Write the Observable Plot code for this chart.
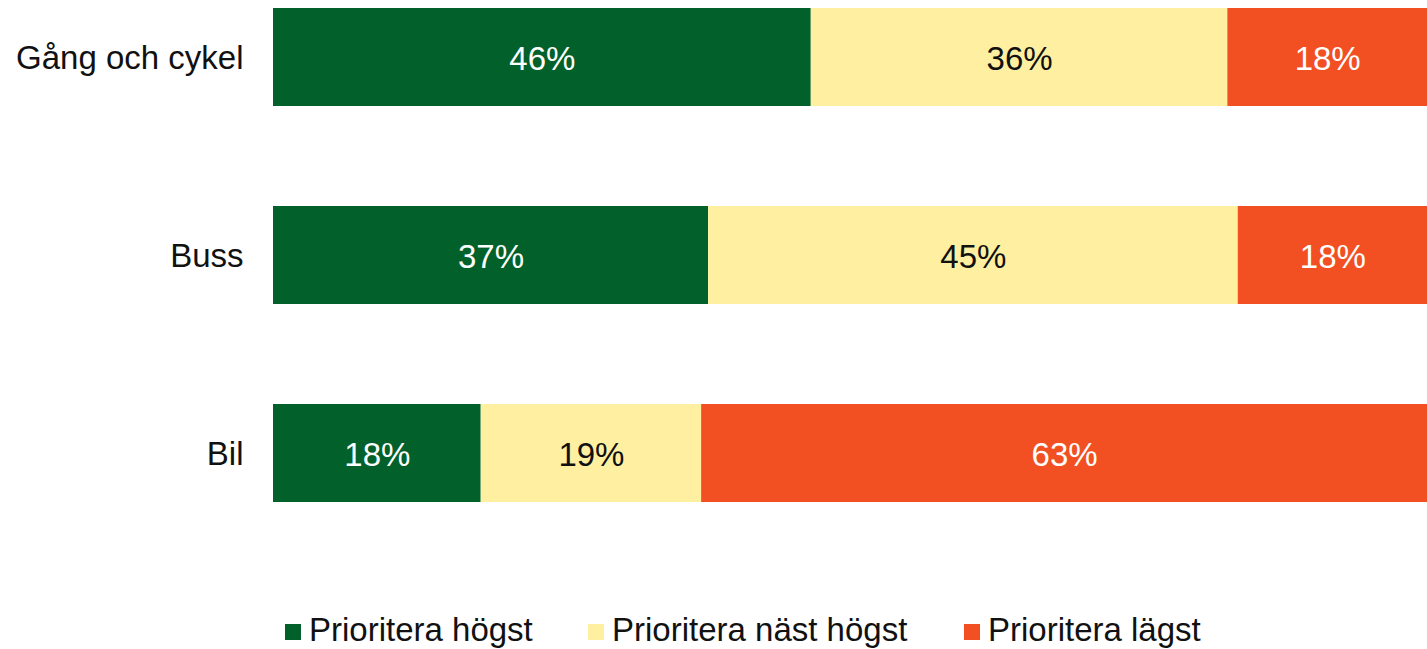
<!DOCTYPE html>
<html>
<head>
<meta charset="utf-8">
<script src="https://cdn.jsdelivr.net/npm/d3@7"></script>
<script src="https://cdn.jsdelivr.net/npm/@observablehq/plot@0.6"></script>
<style>
  html, body { margin: 0; padding: 0; background: #fff; }
  body { width: 1427px; height: 649px; overflow: hidden; font-family: "Liberation Sans", Arial, sans-serif; }
  #legend { position: relative; height: 49px; }
  .item { position: absolute; top: 10px; display: flex; align-items: center; font-size: 33px; color: #111; line-height: 40px; }
  .sw { width: 16px; height: 16px; margin-right: 8px; margin-top: 3px; }
</style>
</head>
<body>
<div id="chart"></div>
<div id="legend"></div>
<script>
const categories = ["Gång och cykel", "Buss", "Bil"];
const series = ["Prioritera högst", "Prioritera näst högst", "Prioritera lägst"];
const colors = ["#02612A", "#FEF0A0", "#F24F22"];
const textColors = ["#ffffff", "#111111", "#ffffff"];
// values per category, in series order
const valuesGang = [46.6, 36.1, 17.3];
const valuesBuss = [37.7, 45.9, 16.4];
const valuesBil  = [18.0, 19.1, 62.9];
// printed labels
const labelsGang = ["46%", "36%", "18%"];
const labelsBuss = ["37%", "45%", "18%"];
const labelsBil  = ["18%", "19%", "63%"];
const legendX = [285, 588, 964];

const rows = [];
[[valuesGang, labelsGang], [valuesBuss, labelsBuss], [valuesBil, labelsBil]].forEach(([vals, labs], ci) => {
  vals.forEach((v, si) => rows.push({cat: categories[ci], series: series[si], value: v, label: labs[si], si}));
});

const chart = Plot.plot({
  width: 1427,
  height: 600,
  marginLeft: 273,
  marginRight: 0,
  marginTop: 8,
  marginBottom: 98,
  style: {fontFamily: "Liberation Sans, Arial, sans-serif", fontSize: "33px", background: "#fff"},
  x: {domain: [0, 100], axis: null},
  y: {domain: categories, paddingInner: 100/198, paddingOuter: 0, label: null, tickSize: 0, tickPadding: 30},
  color: {domain: series, range: colors},
  marks: [
    Plot.barX(rows, Plot.stackX({x: "value", y: "cat", fill: "series", order: "si"})),
    Plot.text(rows, Plot.stackX({x: "value", y: "cat", text: "label", order: "si", fill: d => textColors[d.si], fontSize: 33, dy: 2})),
    Plot.axisY({tickSize: 0, tickPadding: 30, fontSize: 33, fill: "#111", label: null, dy: 1})
  ]
});
document.getElementById("chart").appendChild(chart);

const lg = document.getElementById("legend");
series.forEach((s, i) => {
  const it = document.createElement("div");
  it.className = "item";
  it.style.left = legendX[i] + "px";
  it.innerHTML = `<div class="sw" style="background:${colors[i]}"></div><span>${s}</span>`;
  lg.appendChild(it);
});
</script>
</body>
</html>
